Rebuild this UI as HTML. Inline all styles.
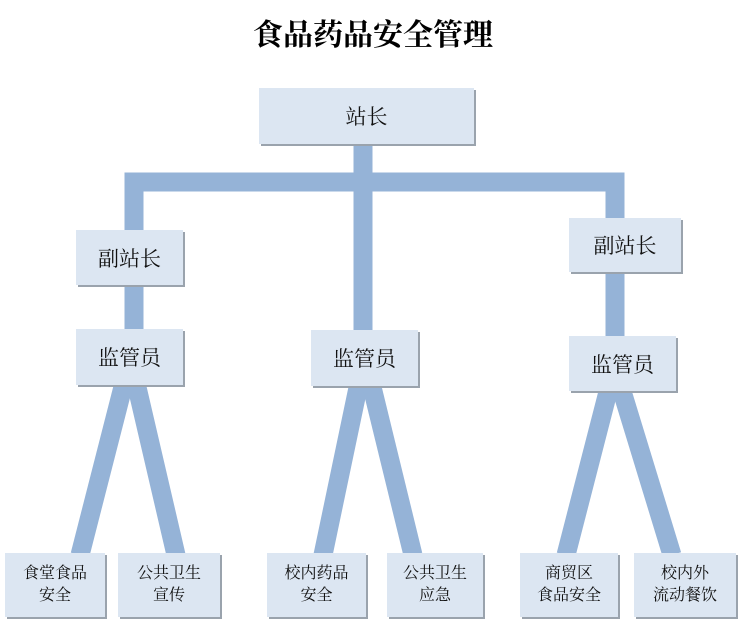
<!DOCTYPE html>
<html><head><meta charset="utf-8"><style>
body{margin:0;background:#fff;width:746px;height:623px;overflow:hidden;position:relative;font-family:"Liberation Serif","Noto Serif CJK SC",serif;}
.t{position:absolute;left:0;width:746px;top:10px;text-align:center;font-size:30px;font-weight:bold;color:#000;}
.b{position:absolute;background:#dce6f2;box-shadow:2px 2px 0 #9aa3ad;display:flex;align-items:center;justify-content:center;text-align:center;color:#111;}
.m{font-size:21px}.s{font-size:16px;line-height:22px}
</style></head><body>
<svg width="746" height="623" style="position:absolute;left:0;top:0">
<g stroke="#95b3d7" stroke-width="19" fill="none">
<line x1="363" y1="140" x2="363" y2="335"/>
<polyline points="134,235 134,182 615,182 615,222"/>
<line x1="134" y1="280" x2="134" y2="335"/>
<line x1="615" y1="268" x2="615" y2="340"/>
<line x1="124" y1="383" x2="80" y2="555"/>
<line x1="136" y1="383" x2="176" y2="555"/>
<line x1="359" y1="383" x2="323" y2="555"/>
<line x1="371" y1="383" x2="413" y2="555"/>
<line x1="609" y1="388" x2="566" y2="555"/>
<line x1="621" y1="388" x2="672" y2="555"/>
</g></svg>
<div class="t">食品药品安全管理</div>
<div class="b m" style="left:259px;top:88px;width:215px;height:56px">站长</div>
<div class="b m" style="left:76px;top:230px;width:107px;height:55px">副站长</div>
<div class="b m" style="left:569px;top:218px;width:112px;height:54px">副站长</div>
<div class="b m" style="left:76px;top:329px;width:107px;height:56px">监管员</div>
<div class="b m" style="left:311px;top:330px;width:107px;height:56px">监管员</div>
<div class="b m" style="left:569px;top:336px;width:107px;height:55px">监管员</div>
<div class="b s" style="left:5px;top:553px;width:100px;height:64px">食堂食品<br>安全</div>
<div class="b s" style="left:118px;top:553px;width:102px;height:64px">公共卫生<br>宣传</div>
<div class="b s" style="left:267px;top:553px;width:99px;height:64px">校内药品<br>安全</div>
<div class="b s" style="left:387px;top:553px;width:96px;height:64px">公共卫生<br>应急</div>
<div class="b s" style="left:520px;top:553px;width:98px;height:64px">商贸区<br>食品安全</div>
<div class="b s" style="left:634px;top:553px;width:102px;height:64px">校内外<br>流动餐饮</div>
</body></html>
